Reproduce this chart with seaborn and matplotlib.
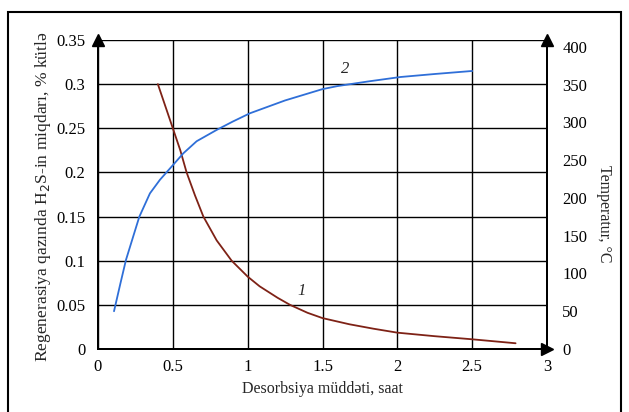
import numpy as np
import pandas as pd
import matplotlib
matplotlib.use("Agg")
import matplotlib.pyplot as plt
import seaborn as sns
from matplotlib.patches import Rectangle

# curve 1: H2S content in regeneration gas (left axis)
h2s_time = [0.4, 0.5, 0.55, 0.592, 0.648, 0.704, 0.793, 0.893, 1.0, 1.08, 1.2,
            1.283, 1.4, 1.5, 1.68, 1.84, 2.0, 2.25, 2.5, 2.79]
h2s_val = [0.30, 0.25, 0.225, 0.20, 0.174, 0.15, 0.123, 0.10, 0.082, 0.071, 0.058,
           0.05, 0.041, 0.035, 0.028, 0.023, 0.0185, 0.0145, 0.011, 0.0065]

# curve 2: temperature (right axis)
temp_time = [0.107, 0.15, 0.187, 0.24, 0.276, 0.347, 0.414, 0.481, 0.57, 0.659,
             0.793, 0.9, 1.015, 1.25, 1.5, 1.6, 1.8, 2.02, 2.25, 2.5]
temp_val = [50, 87, 118, 152, 175, 206, 224, 239, 259, 275,
            290, 301, 312, 329, 344, 348, 354, 360, 364, 368]

x_ticks = [0, 0.5, 1, 1.5, 2, 2.5, 3]
x_labels = ["0", "0.5", "1", "1.5", "2", "2.5", "3"]
left_ticks = [0, 0.05, 0.1, 0.15, 0.2, 0.25, 0.3, 0.35]
left_labels = ["0", "0.05", "0.1", "0.15", "0.2", "0.25", "0.3", "0.35"]
right_ticks = [0, 50, 100, 150, 200, 250, 300, 350, 400]

sns.set_theme(style="white")
plt.rcParams["font.family"] = ["Liberation Serif", "DejaVu Serif"]

df1 = pd.DataFrame({"t": h2s_time, "v": h2s_val})
df2 = pd.DataFrame({"t": temp_time, "v": temp_val})

fig = plt.figure(figsize=(6.29, 4.12), dpi=100)
ax = fig.add_axes([98 / 629, 1 - 349 / 412, 449 / 629, 309 / 412])
ax2 = ax.twinx()

ax.set_xlim(0, 3)
ax.set_ylim(0, 0.35)
ax2.set_ylim(0, 409)

ax.set_xticks(x_ticks)
ax.set_xticklabels(x_labels)
ax.set_yticks(left_ticks)
ax.set_yticklabels(left_labels)
ax2.set_yticks(right_ticks)
ax.grid(True, color="black", linewidth=1.0)
ax2.grid(False)

sns.lineplot(data=df1, x="t", y="v", ax=ax, color="#7e2216", linewidth=1.3)
sns.lineplot(data=df2, x="t", y="v", ax=ax2, color="#2f6fd8", linewidth=1.3)

for a in (ax, ax2):
    a.spines["top"].set_visible(False)
    for s in ("left", "right", "bottom"):
        a.spines[s].set_color("black")
        a.spines[s].set_linewidth(1.4)
    a.set_xlabel("")
    a.set_ylabel("")
    a.tick_params(length=0, labelsize=12, colors="black")
ax.tick_params(axis="y", pad=9)
ax.tick_params(axis="x", pad=7)
ax2.tick_params(axis="y", pad=11)

# arrow heads
ax.plot([0], [1], marker="^", color="black", markersize=8, transform=ax.transAxes, clip_on=False)
ax.plot([1], [1], marker="^", color="black", markersize=8, transform=ax.transAxes, clip_on=False)
ax.plot([1], [0], marker=">", color="black", markersize=8, transform=ax.transAxes, clip_on=False)

ax.text(1.36, 0.066, "1", fontsize=12, style="italic", ha="center", va="center")
ax.text(1.65, 0.317, "2", fontsize=12, style="italic", ha="center", va="center")

fig.text(322 / 629, 1 - 389 / 412, "Desorbsiya müddəti, saat", ha="center", va="center", fontsize=11.5)
fig.text(43 / 629, 1 - 197 / 412, "Regenerasiya qazında H$_2$S-in miqdarı, % kütlə",
         rotation=90, ha="center", va="center", fontsize=12.6)
fig.text(604 / 629, 1 - 214 / 412, "Temperatur, °C", rotation=-90, ha="center", va="center", fontsize=11.5)

fig.patches.append(Rectangle((8 / 629, -0.1), 613 / 629, 1.1 - 12 / 412,
                             transform=fig.transFigure, fill=False, edgecolor="black", linewidth=1.5))

fig.savefig("out.png", dpi=100)
